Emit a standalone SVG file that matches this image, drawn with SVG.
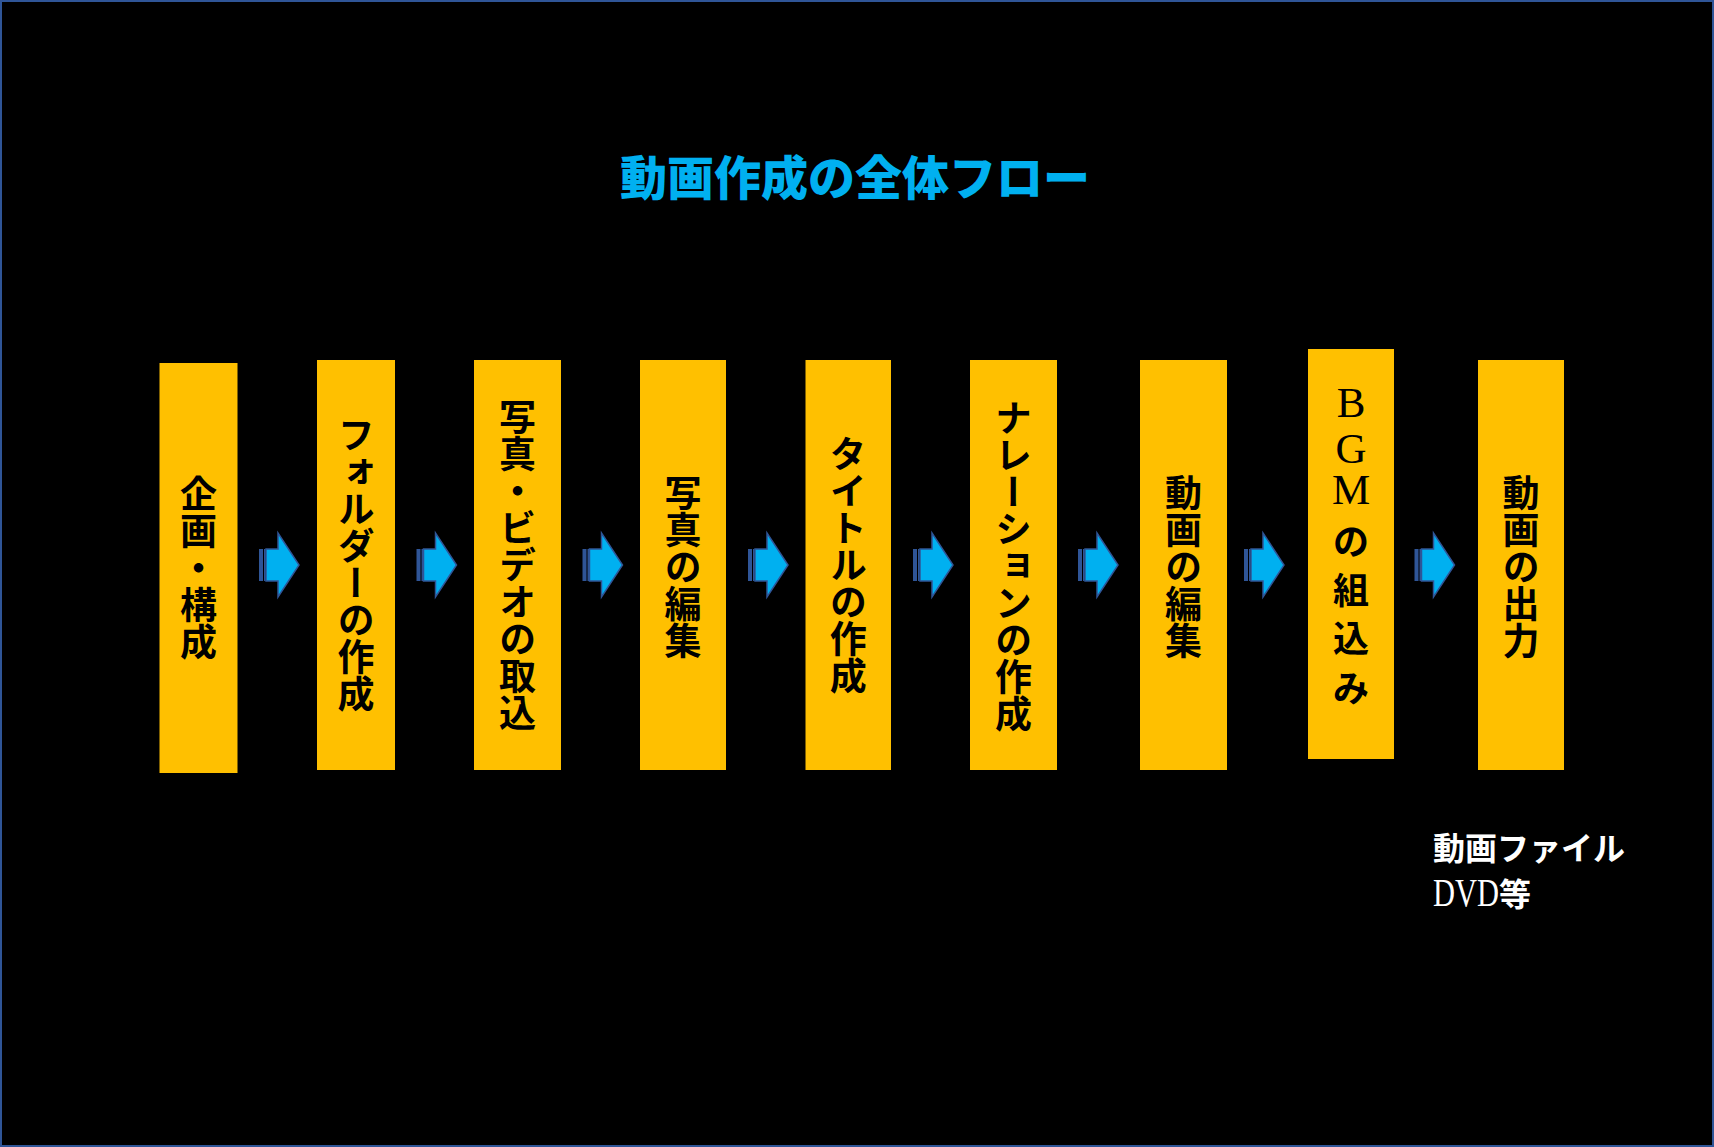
<svg xmlns="http://www.w3.org/2000/svg" xmlns:xlink="http://www.w3.org/1999/xlink" width="1714" height="1147" viewBox="0 0 1714 1147">
<style>
.box{fill:#FFC000}
.lbl{font-family:"Noto Sans CJK JP","Noto Sans",sans-serif;font-weight:700;font-size:37px;fill:#000;writing-mode:vertical-rl;text-anchor:middle}
.ser{font-family:"Liberation Serif",serif;font-weight:400}
.cjk{font-family:"Noto Sans CJK JP","Noto Sans",sans-serif;font-weight:700}
</style>
<defs>
<g id="arr">
<rect x="0" y="-16" width="4" height="32" fill="#2F5597"/>
<rect x="5" y="-16" width="1.5" height="32" fill="#2F5597"/>
<polygon points="7,-16 19,-16 19,-32 40,0 19,32 19,16 7,16" fill="#00B0F0" stroke="#2F5597" stroke-width="1.5" stroke-linejoin="miter"/>
</g>
</defs>
<rect x="0" y="0" width="1714" height="1147" fill="#000"/>
<rect x="1" y="1" width="1712" height="1145" fill="none" stroke="#2F5597" stroke-width="2"/>
<text id="title" x="855" y="195" text-anchor="middle" font-family="'Noto Sans CJK JP','Noto Sans',sans-serif" font-weight="900" font-size="47" fill="#00B0F0">動画作成の全体フロー</text>
<g id="connectors">
<use xlink:href="#arr" href="#arr" transform="translate(259,565)"/>
<use xlink:href="#arr" href="#arr" transform="translate(416.5,565)"/>
<use xlink:href="#arr" href="#arr" transform="translate(582.5,565)"/>
<use xlink:href="#arr" href="#arr" transform="translate(748,565)"/>
<use xlink:href="#arr" href="#arr" transform="translate(913,565)"/>
<use xlink:href="#arr" href="#arr" transform="translate(1078,565)"/>
<use xlink:href="#arr" href="#arr" transform="translate(1244,565)"/>
<use xlink:href="#arr" href="#arr" transform="translate(1414.5,565)"/>
</g>
<g id="n1"><rect class="box" x="159.5" y="363" width="78" height="410"/><text class="lbl" x="198.5" y="568">企画・構成</text></g>
<g id="n2"><rect class="box" x="317" y="360" width="78" height="410"/><text class="lbl" x="356" y="564">フォルダーの作成</text></g>
<g id="n3"><rect class="box" x="474" y="360" width="87" height="410"/><text class="lbl" x="517.5" y="565">写真・ビデオの取込</text></g>
<g id="n4"><rect class="box" x="640" y="360" width="86" height="410"/><text class="lbl" x="683" y="567">写真の編集</text></g>
<g id="n5"><rect class="box" x="805.5" y="360" width="85.5" height="410"/><text class="lbl" x="848.3" y="565">タイトルの作成</text></g>
<g id="n6"><rect class="box" x="970" y="360" width="87" height="410"/><text class="lbl" x="1013.5" y="566">ナレーションの作成</text></g>
<g id="n7"><rect class="box" x="1140" y="360" width="87" height="410"/><text class="lbl" x="1183.5" y="567">動画の編集</text></g>
<g id="n8"><rect class="box" x="1308" y="349" width="86" height="410"/>
<text x="1351" text-anchor="middle" font-size="36" fill="#000"><tspan class="ser" font-size="43" x="1351" y="417">B</tspan><tspan class="ser" font-size="43" x="1351" y="463">G</tspan><tspan class="ser" font-size="43" x="1351" y="504">M</tspan><tspan class="cjk" x="1351" y="555">の</tspan><tspan class="cjk" x="1351" y="604">組</tspan><tspan class="cjk" x="1351" y="652">込</tspan><tspan class="cjk" x="1351" y="702">み</tspan></text></g>
<g id="n9"><rect class="box" x="1478" y="360" width="86" height="410"/><text class="lbl" x="1521" y="567">動画の出力</text></g>
<g id="note">
<text x="1433" y="860" font-family="'Noto Sans CJK JP','Noto Sans',sans-serif" font-weight="700" font-size="32" fill="#fff">動画ファイル</text>
<text x="1433" y="906" font-size="32" fill="#fff"><tspan class="ser" font-size="40" textLength="66" lengthAdjust="spacingAndGlyphs">DVD</tspan><tspan class="cjk">等</tspan></text>
</g>
</svg>
